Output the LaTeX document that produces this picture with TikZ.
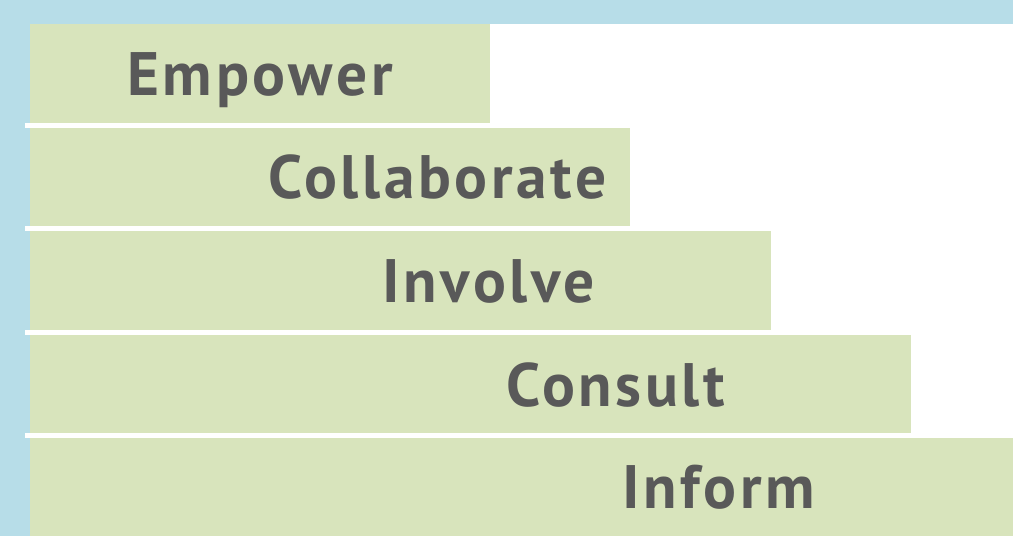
\documentclass[tikz,border=0pt]{standalone}
\usepackage{fontspec}
\newfontfamily\stepfont[LetterSpace=6]{PT Sans}
\usetikzlibrary{positioning}

\definecolor{edgeblue}{HTML}{B7DDE8}
\definecolor{barolive}{HTML}{D8E4BC}
\definecolor{labelgray}{HTML}{595959}

\tikzset{
    stair/.style={fill=barolive},
    gapline/.style={fill=white},
    level/.style={anchor=base west, inner sep=0pt, text=labelgray,
        font=\stepfont\bfseries\fontsize{46}{46}\selectfont}
}

\begin{document}
\begin{tikzpicture}[x=0.75pt, y=-0.75pt]

\useasboundingbox (0,0) rectangle (1013,536);

% Blue frame, top and left
\fill[edgeblue] (0,0) rectangle (1013,23.5);
\fill[edgeblue] (0,0) rectangle (29.5,536);

% White separators
\fill[gapline] (25,122.5) rectangle (1013,127.5);
\fill[gapline] (25,226) rectangle (1013,231);
\fill[gapline] (25,329.5) rectangle (1013,334.5);
\fill[gapline] (25,432.5) rectangle (1013,437.5);

% Steps
\fill[stair] (29.5,23.5) rectangle (489.5,122.5);
\fill[stair] (29.5,127.5) rectangle (629.5,226);
\fill[stair] (29.5,231) rectangle (770.5,329.5);
\fill[stair] (29.5,334.5) rectangle (910.5,432.5);
\fill[stair] (29.5,437.5) rectangle (1013,536);

% Labels
\node[level] (empower) at (127,95) {Empower};
\node[level] (collaborate) at (268,198) {Collaborate};
\node[level] (involve) at (382,302) {Involve};
\node[level] (consult) at (506,406) {Consult};
\node[level] (inform) at (622,508) {Inform};

\end{tikzpicture}
\end{document}
